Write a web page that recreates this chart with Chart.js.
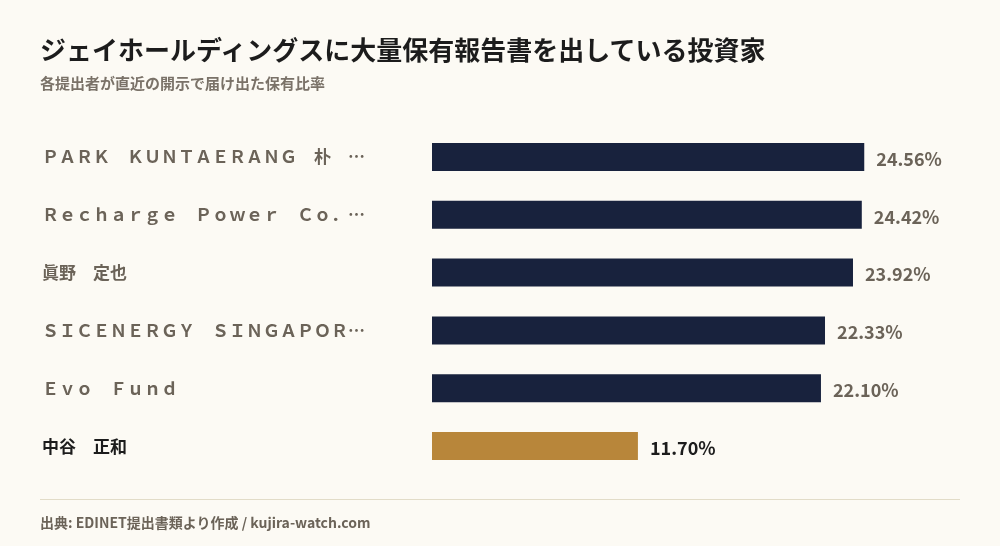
<!DOCTYPE html>
<html><head><meta charset="utf-8">
<script src="https://cdn.jsdelivr.net/npm/chart.js@4"></script>
<style>
body{margin:0;background:#fcfaf4;font-family:"Noto Sans CJK JP","Noto Sans",sans-serif;}
#wrap{position:relative;width:1000px;height:546px;overflow:hidden;}
canvas{position:absolute;left:0;top:0;}
#t{position:absolute;left:40px;top:30px;font-size:26px;font-weight:700;color:#1c1c1c;}
#s{position:absolute;left:40px;top:72px;font-size:15px;font-weight:700;color:#7a7268;}
#line{position:absolute;left:40px;top:499px;width:920px;height:1px;background:#e2dcc8;}
#f{position:absolute;left:40px;top:512px;font-size:14px;font-weight:700;color:#6b6358;}
</style></head><body>
<div id="wrap">
<canvas id="c" width="1000" height="546"></canvas>
<div id="t">ジェイホールディングスに大量保有報告書を出している投資家</div>
<div id="s">各提出者が直近の開示で届け出た保有比率</div>
<div id="line"></div>
<div id="f">出典: EDINET提出書類より作成 / kujira-watch.com</div>
</div>
<script>
const categories=["ＰＡＲＫ　ＫＵＮＴＡＥＲＡＮＧ　朴　…","Ｒｅｃｈａｒｇｅ　Ｐｏｗｅｒ　Ｃｏ．…","眞野　定也","ＳＩＣＥＮＥＲＧＹ　ＳＩＮＧＡＰＯＲ…","Ｅｖｏ　Ｆｕｎｄ","中谷　正和"];
const values=[24.56,24.42,23.92,22.33,22.10,11.70];
const colors=["#18223d","#18223d","#18223d","#18223d","#18223d","#b8863a"];
const labelPlugin={id:'lbl',afterDatasetsDraw(chart){
 const ctx=chart.ctx,y=chart.scales.y,meta=chart.getDatasetMeta(0);
 ctx.save();ctx.textBaseline='middle';
 categories.forEach((c,i)=>{
  const py=y.getPixelForValue(i);const last=i===categories.length-1;
  ctx.font='700 17px "Noto Sans CJK JP"';ctx.fillStyle=last?'#1c1c1c':'#6b6358';ctx.textAlign='left';
  ctx.fillText(c,42,py);
  ctx.font='700 18px "Noto Sans CJK JP"';
  ctx.fillText(values[i].toFixed(2)+'%',meta.data[i].x+12,py+2);
 });ctx.restore();}};
new Chart(document.getElementById('c'),{type:'bar',
 data:{labels:categories,datasets:[{data:values,backgroundColor:colors,barPercentage:0.97,categoryPercentage:0.5}]},
 options:{indexAxis:'y',responsive:false,animation:false,
  layout:{padding:{left:432,right:40,top:128,bottom:71}},
  plugins:{legend:{display:false},tooltip:{enabled:false}},
  scales:{x:{display:false,min:0,max:30},y:{display:false}}},
 plugins:[labelPlugin]});
</script></body></html>
